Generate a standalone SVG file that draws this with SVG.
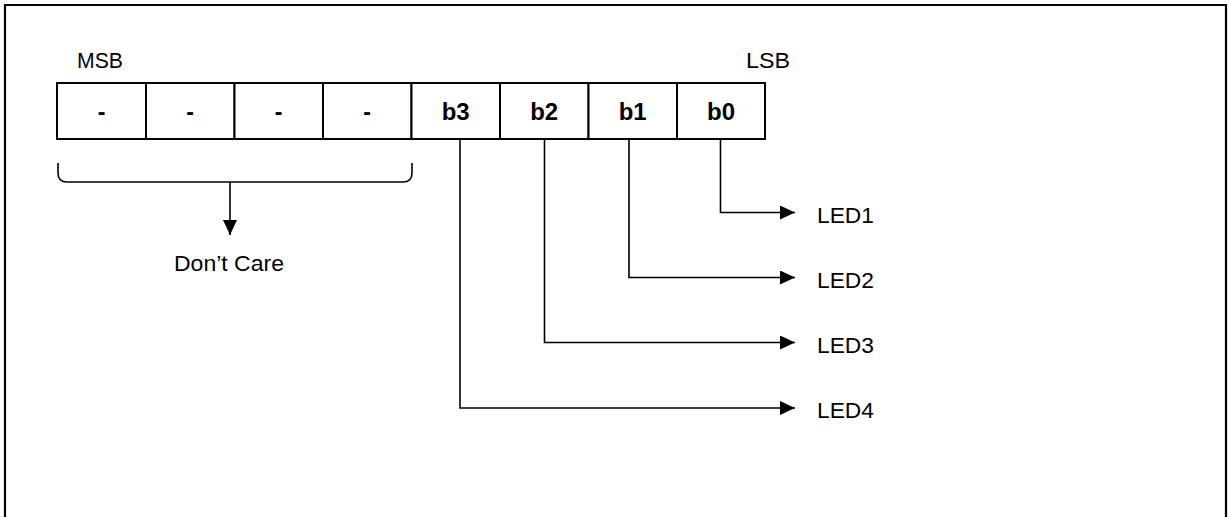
<svg xmlns="http://www.w3.org/2000/svg" width="1229" height="517" viewBox="0 0 1229 517">
<defs>
<style>
.t{font-family:"Liberation Sans",Arial,sans-serif;font-size:22px;fill:#000}
.b{font-family:"Liberation Sans",Arial,sans-serif;font-size:23px;font-weight:bold;fill:#000}
.cell{fill:#fff;stroke:#000;stroke-width:2}
.conn{fill:none;stroke:#000;stroke-width:1.6}
</style>
<marker id="ah" markerWidth="15" markerHeight="14" refX="15" refY="7" orient="auto" markerUnits="userSpaceOnUse">
<path d="M0,0 L15,7 L0,14 Z" fill="#000"/>
</marker>
</defs>
<rect width="1229" height="517" fill="#fff"/>
<path d="M5,517 V5 H1226 V517" fill="none" stroke="#000" stroke-width="2.2"/>
<text class="t" x="77" y="68" textLength="46" lengthAdjust="spacingAndGlyphs">MSB</text>
<text class="t" x="746" y="68" textLength="44" lengthAdjust="spacingAndGlyphs">LSB</text>
<g id="bit7"><rect class="cell" x="57" y="83" width="89" height="56"/><text class="b" x="101.5" y="120" text-anchor="middle">-</text></g>
<g id="bit6"><rect class="cell" x="146" y="83" width="88.5" height="56"/><text class="b" x="190.2" y="120" text-anchor="middle">-</text></g>
<g id="bit5"><rect class="cell" x="234.5" y="83" width="88.5" height="56"/><text class="b" x="278.7" y="120" text-anchor="middle">-</text></g>
<g id="bit4"><rect class="cell" x="323" y="83" width="88.5" height="56"/><text class="b" x="367.2" y="120" text-anchor="middle">-</text></g>
<g id="b3"><rect class="cell" x="411.5" y="83" width="88.5" height="56"/><text class="b" x="455.7" y="120" text-anchor="middle" textLength="28" lengthAdjust="spacingAndGlyphs">b3</text></g>
<g id="b2"><rect class="cell" x="500" y="83" width="88.5" height="56"/><text class="b" x="544.2" y="120" text-anchor="middle" textLength="28" lengthAdjust="spacingAndGlyphs">b2</text></g>
<g id="b1"><rect class="cell" x="588.5" y="83" width="88.5" height="56"/><text class="b" x="632.7" y="120" text-anchor="middle" textLength="28" lengthAdjust="spacingAndGlyphs">b1</text></g>
<g id="b0"><rect class="cell" x="677" y="83" width="88" height="56"/><text class="b" x="721" y="120" text-anchor="middle" textLength="28" lengthAdjust="spacingAndGlyphs">b0</text></g>
<g id="brace"><path d="M58,163 V173 Q58,182 67,182 H403 Q412,182 412,173 V163" fill="none" stroke="#000" stroke-width="1.6"/></g>
<g id="dontcare"><text class="t" x="229" y="271" text-anchor="middle" textLength="110" lengthAdjust="spacingAndGlyphs">Don’t Care</text></g>
<g id="led1"><text class="t" x="817" y="223" textLength="57" lengthAdjust="spacingAndGlyphs">LED1</text></g>
<g id="led2"><text class="t" x="817" y="288" textLength="57" lengthAdjust="spacingAndGlyphs">LED2</text></g>
<g id="led3"><text class="t" x="817" y="353" textLength="57" lengthAdjust="spacingAndGlyphs">LED3</text></g>
<g id="led4"><text class="t" x="817" y="418" textLength="57" lengthAdjust="spacingAndGlyphs">LED4</text></g>
<g id="connectors">
<path class="conn" d="M230,182 V235" marker-end="url(#ah)"/>
<path class="conn" d="M720.5,139 V212.5 H795" marker-end="url(#ah)"/>
<path class="conn" d="M629,139 V277.5 H795" marker-end="url(#ah)"/>
<path class="conn" d="M544.5,139 V342.5 H795" marker-end="url(#ah)"/>
<path class="conn" d="M460,139 V408 H795" marker-end="url(#ah)"/>
</g>
</svg>
